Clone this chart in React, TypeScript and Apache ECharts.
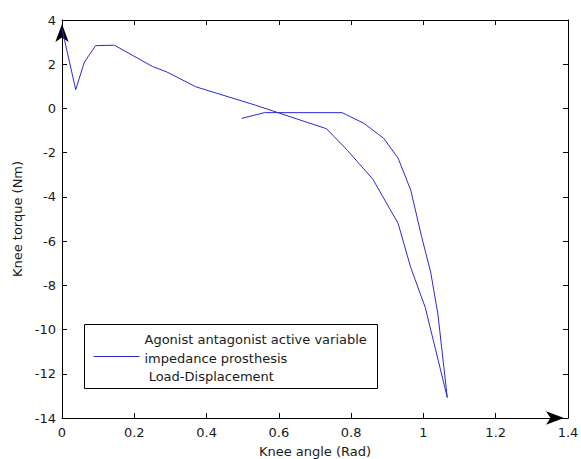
import React, { useEffect, useRef } from "react";
import * as echarts from "echarts";

const kneeAngle = [
  0.0, 0.038, 0.062, 0.093, 0.145, 0.25, 0.29, 0.37, 0.535, 0.732, 0.79, 0.86, 0.93, 0.965, 1.005, 1.066,
  1.04, 1.02, 0.995, 0.965, 0.93, 0.89, 0.835, 0.775, 0.56, 0.497,
];
const kneeTorque = [
  3.6, 0.85, 2.1, 2.84, 2.86, 1.9, 1.65, 0.98, 0.15, -0.92, -1.9, -3.2, -5.2, -7.2, -9.0, -13.07,
  -9.3, -7.4, -5.8, -3.7, -2.25, -1.35, -0.67, -0.19, -0.19, -0.45,
];
const legendLines = ["Agonist antagonist active variable", "impedance prosthesis", " Load-Displacement"];
const seriesName = legendLines.join(" ");
const xTicks = { min: 0, max: 1.4, interval: 0.2 };
const yTicks = { min: -14, max: 4, interval: 2 };

const FONT = "'DejaVu Sans', sans-serif";
const LINE_COLOR = "#2b2bd0";
const TEXT_COLOR = "#1a1a1a";

export default function App() {
  const ref = useRef<HTMLDivElement>(null);
  useEffect(() => {
    if (!ref.current) return;
    const chart = echarts.init(ref.current, undefined, { renderer: "svg" });
    const axisLine = { onZero: false, lineStyle: { color: "#000", width: 1 } };
    const tick = { show: true, inside: true, length: 5, lineStyle: { color: "#000" } };
    chart.setOption({
      animation: false,
      backgroundColor: "#fff",
      textStyle: { fontFamily: FONT },
      grid: {
        left: 62,
        right: 13,
        top: 20,
        bottom: 41,
        containLabel: false,
        outerBoundsMode: "none",
      },
      xAxis: [
        {
          type: "value",
          ...xTicks,
          position: "bottom",
          axisLine: { ...axisLine, symbol: ["none", "arrow"], symbolSize: [10, 18], symbolOffset: [0, -4] },
          axisTick: tick,
          splitLine: { show: false },
          axisLabel: { color: TEXT_COLOR, fontSize: 13, fontFamily: FONT, margin: 8 },
          name: "Knee angle (Rad)",
          nameLocation: "middle",
          nameGap: 27,
          nameTextStyle: { color: TEXT_COLOR, fontSize: 13, fontFamily: FONT },
        },
        {
          type: "value",
          ...xTicks,
          position: "top",
          axisLine: axisLine,
          axisTick: tick,
          splitLine: { show: false },
          axisLabel: { show: false },
        },
      ],
      yAxis: [
        {
          type: "value",
          ...yTicks,
          position: "left",
          axisLine: { ...axisLine, symbol: ["none", "arrow"], symbolSize: [10, 18], symbolOffset: [0, -4] },
          axisTick: tick,
          splitLine: { show: false },
          axisLabel: { color: TEXT_COLOR, fontSize: 13, fontFamily: FONT, margin: 6 },
          name: "Knee torque (Nm)",
          nameLocation: "middle",
          nameGap: 37,
          nameTextStyle: { color: TEXT_COLOR, fontSize: 13, fontFamily: FONT },
        },
        {
          type: "value",
          ...yTicks,
          position: "right",
          axisLine: axisLine,
          axisTick: tick,
          splitLine: { show: false },
          axisLabel: { show: false },
        },
      ],
      graphic: [
        {
          type: "group",
          left: 84,
          top: 324,
          children: [
            {
              type: "rect",
              shape: { x: 0, y: 0, width: 293, height: 64 },
              style: { fill: "#fff", stroke: "#000", lineWidth: 1 },
            },
            {
              type: "line",
              shape: { x1: 9, y1: 32, x2: 55, y2: 32 },
              style: { stroke: LINE_COLOR, lineWidth: 1 },
            },
            ...legendLines.map((t, i) => ({
              type: "text",
              x: 60,
              y: 15 + i * 18.5,
              style: {
                text: t,
                fill: TEXT_COLOR,
                font: `13px ${FONT}`,
                textAlign: "left",
                textVerticalAlign: "middle",
              },
            })),
          ],
        },
      ],
      series: [
        {
          name: seriesName,
          type: "line",
          xAxisIndex: 0,
          yAxisIndex: 0,
          symbol: "none",
          showSymbol: false,
          lineStyle: { color: LINE_COLOR, width: 1 },
          itemStyle: { color: LINE_COLOR },
          data: kneeAngle.map((a, i) => [a, kneeTorque[i]]),
        },
      ],
    });
    return () => chart.dispose();
  }, []);
  return (
    <div
      ref={ref}
      style={{ width: 581, height: 459, position: "absolute", left: 0, top: 0 }}
    />
  );
}
